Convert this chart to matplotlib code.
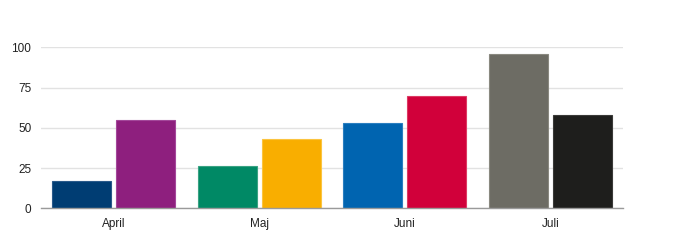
import matplotlib
matplotlib.use("Agg")
import matplotlib.pyplot as plt
import numpy as np

categories = ["April", "Maj", "Juni", "Juli"]
values_a = [17, 26, 53, 96]
values_b = [55, 43, 70, 58]
colors_a = ["#003d73", "#008965", "#0064b0", "#6d6c64"]
colors_b = ["#8e1f7e", "#f9ae00", "#d1003a", "#1e1e1c"]
edges_a = ["#2a5a8a", "#3aa383", "#2a7ec0", "#8a8980"]
edges_b = ["#a3479a", "#fbc440", "#dd3a63", "#3a3a38"]
yticks = [0, 25, 50, 75, 100]

plt.rcParams['font.family'] = ['Liberation Sans', 'DejaVu Sans']

fig = plt.figure(figsize=(6.8, 2.41), dpi=100)
ax = fig.add_axes([41/680, 1-208.3/241, (623-41)/680, (208.3-47.3)/241])

x = np.arange(len(categories))
w = 0.405
gap = 0.017
ax.bar(x - w/2 - gap, values_a, width=w, color=colors_a, edgecolor=edges_a, linewidth=0.8, zorder=3)
ax.bar(x + w/2 + gap, values_b, width=w, color=colors_b, edgecolor=edges_b, linewidth=0.8, zorder=3)

ax.set_xlim(-0.5, len(categories) - 0.5)
ax.set_ylim(0, 100)
ax.set_yticks(yticks)
ax.set_xticks(x)
ax.set_xticklabels(categories)
ax.yaxis.grid(True, color="#e2e2e2", linewidth=1.0, zorder=0)
ax.set_axisbelow(True)
for s in ["top", "right", "left"]:
    ax.spines[s].set_visible(False)
ax.spines["bottom"].set_color("#9a9a9a")
ax.spines["bottom"].set_linewidth(1.0)
ax.spines["bottom"].set_zorder(4)
ax.tick_params(axis="y", length=0, pad=7, labelsize=8.5, labelcolor="#222222")
ax.tick_params(axis="x", length=0, pad=7, labelsize=8.5, labelcolor="#222222")

fig.savefig("out.png", dpi=100, facecolor="white")
